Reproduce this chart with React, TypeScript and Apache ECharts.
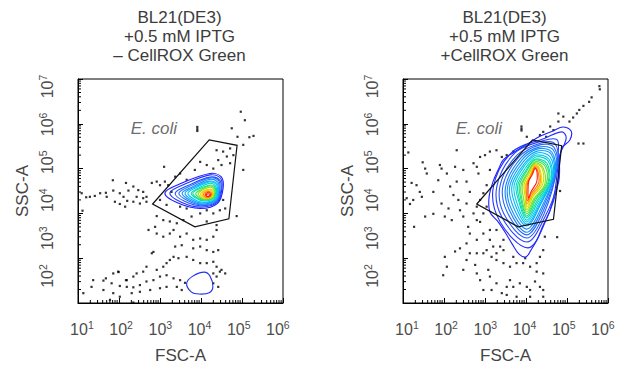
import React, { useEffect, useRef } from 'react';
import * as echarts from 'echarts';

const FONT = '"Liberation Sans", Arial, Helvetica, sans-serif';

// ---- text ----
const panelTitles = [
  'BL21(DE3)\n+0.5 mM IPTG\n– CellROX Green',
  'BL21(DE3)\n+0.5 mM IPTG\n+CellROX Green',
];
const xAxisName = 'FSC-A';
const yAxisName = 'SSC-A';
const gateName = 'E. coli';

// ---- axes (log10 units) ----
const xExponents = [1, 2, 3, 4, 5, 6];
const yExponents = [2, 3, 4, 5, 6, 7];
const minorMultipliers = [2, 3, 4, 5, 6, 7, 8, 9];
// the printed decade labels sit on a slightly compressed scale in the original figure
const xLabelScale = [0.9, 6.13];
const yLabelScale = [1.288, 7.198];

// ---- gate label position (log10 FSC-A, log10 SSC-A) ----
const gateLabelPos = [2.85, 5.9];
const leftGateMark = [[3.91, 5.93], [3.91, 5.88], [3.91, 5.84]];
const rightGateMark = [[3.89, 5.94], [3.89, 5.89], [3.89, 5.85]];

// ---- gates ----
const leftGate = [[2.82, 4.21], [4.20, 5.64], [4.88, 5.52], [4.68, 3.88], [3.85, 3.70]];
const rightGate = [[2.80, 4.21], [4.16, 5.64], [4.87, 5.51], [4.67, 3.87], [3.81, 3.70]];

// ---- left panel contours (outer -> inner) ----
const leftContours = [
  [[3.12, 4.46], [3.54, 4.68], [4.22, 4.89], [4.49, 4.82], [4.54, 4.57], [4.41, 4.23], [3.98, 4.11], [3.44, 4.23]],
  [[3.24, 4.46], [3.62, 4.66], [4.22, 4.86], [4.47, 4.79], [4.51, 4.56], [4.40, 4.25], [3.99, 4.14], [3.52, 4.25]],
  [[3.37, 4.45], [3.70, 4.63], [4.22, 4.81], [4.45, 4.75], [4.49, 4.55], [4.39, 4.27], [4.00, 4.17], [3.60, 4.27]],
  [[3.46, 4.45], [3.76, 4.62], [4.22, 4.79], [4.43, 4.73], [4.46, 4.54], [4.38, 4.28], [4.01, 4.19], [3.68, 4.28]],
  [[3.54, 4.45], [3.81, 4.60], [4.21, 4.76], [4.41, 4.70], [4.44, 4.53], [4.37, 4.29], [4.02, 4.21], [3.74, 4.29]],
  [[3.61, 4.45], [3.85, 4.59], [4.21, 4.72], [4.39, 4.67], [4.42, 4.52], [4.35, 4.30], [4.03, 4.23], [3.79, 4.30]],
  [[3.68, 4.45], [3.89, 4.58], [4.20, 4.70], [4.37, 4.65], [4.40, 4.51], [4.34, 4.31], [4.04, 4.25], [3.84, 4.31]],
  [[3.76, 4.45], [3.93, 4.56], [4.20, 4.67], [4.35, 4.62], [4.38, 4.50], [4.33, 4.33], [4.05, 4.28], [3.89, 4.33]],
  [[3.80, 4.45], [3.96, 4.55], [4.20, 4.63], [4.33, 4.60], [4.36, 4.49], [4.31, 4.34], [4.06, 4.30], [3.92, 4.34]],
  [[3.87, 4.44], [4.00, 4.53], [4.19, 4.61], [4.31, 4.58], [4.34, 4.48], [4.30, 4.35], [4.07, 4.31], [3.96, 4.35]],
  [[3.93, 4.44], [4.03, 4.52], [4.19, 4.58], [4.29, 4.56], [4.32, 4.47], [4.28, 4.36], [4.09, 4.32], [3.99, 4.36]],
  [[3.98, 4.44], [4.06, 4.50], [4.18, 4.54], [4.27, 4.53], [4.30, 4.46], [4.26, 4.37], [4.11, 4.33], [4.03, 4.37]],
  [[4.02, 4.43], [4.08, 4.49], [4.18, 4.52], [4.25, 4.51], [4.28, 4.45], [4.25, 4.38], [4.13, 4.34], [4.06, 4.38]],
  [[4.06, 4.43], [4.11, 4.47], [4.17, 4.49], [4.23, 4.48], [4.26, 4.44], [4.23, 4.38], [4.15, 4.35], [4.09, 4.38]],
  [[4.10, 4.42], [4.13, 4.45], [4.17, 4.47], [4.22, 4.46], [4.24, 4.42], [4.22, 4.39], [4.16, 4.37], [4.12, 4.39]],
  [[4.12, 4.41], [4.15, 4.43], [4.18, 4.44], [4.21, 4.43], [4.22, 4.41], [4.20, 4.39], [4.16, 4.38], [4.13, 4.39]],
  // debris population near the bottom
  [[3.65, 2.44], [3.80, 2.60], [4.08, 2.69], [4.22, 2.60], [4.29, 2.36], [4.20, 2.23], [3.96, 2.20], [3.76, 2.25]],
];
const leftContourColors = [
  '#1a1aff', '#2030ff', '#2050ff', '#1e6fff', '#1a8cff', '#10a8ff', '#00c4f4', '#00d8d0',
  '#10e090', '#40e040', '#90e020', '#d8e000', '#ffc000', '#ff8000', '#ff4000', '#ff1010',
  '#2030ee',
];

// ---- right panel contours (outer -> inner) ----
const rightContours = [
  [[5.10, 5.84], [4.90, 5.93], [4.66, 5.84], [4.34, 5.72], [4.00, 5.53], [3.68, 5.35], [3.44, 5.19], [3.34, 5.01],
   [3.20, 4.72], [3.10, 4.37], [3.12, 4.03], [3.32, 3.81], [3.49, 3.58], [3.66, 3.32], [3.83, 3.09], [4.00, 3.03],
   [4.12, 3.18], [4.27, 3.41], [4.41, 3.72], [4.59, 4.08], [4.71, 4.52], [4.78, 5.04], [4.88, 5.46], [5.07, 5.64]],
  [[4.46, 5.68], [4.88, 5.82], [4.98, 5.68], [4.83, 5.30], [4.80, 4.72], [4.49, 3.85], [4.05, 3.23], [3.37, 3.81], [3.20, 4.57], [3.66, 5.37]],
  [[4.41, 5.62], [4.76, 5.64], [4.78, 5.28], [4.78, 4.70], [4.46, 3.92], [4.02, 3.36], [3.41, 3.92], [3.29, 4.61], [3.73, 5.35]],
  [[4.37, 5.57], [4.71, 5.55], [4.77, 5.08], [4.44, 3.99], [4.02, 3.45], [3.46, 3.99], [3.37, 4.63], [3.78, 5.30]],
  [[4.34, 5.53], [4.68, 5.48], [4.76, 5.01], [4.41, 4.03], [4.02, 3.52], [3.54, 4.03], [3.44, 4.63], [3.83, 5.26]],
  [[4.32, 5.48], [4.66, 5.42], [4.73, 4.97], [4.39, 4.08], [4.02, 3.58], [3.59, 4.08], [3.51, 4.63], [3.88, 5.24]],
  [[4.29, 5.44], [4.63, 5.37], [4.71, 4.92], [4.37, 4.12], [4.02, 3.65], [3.63, 4.12], [3.56, 4.63], [3.90, 5.19]],
  [[4.27, 5.39], [4.61, 5.33], [4.68, 4.88], [4.34, 4.17], [4.02, 3.72], [3.68, 4.17], [3.61, 4.63], [3.93, 5.15]],
  [[4.27, 5.35], [4.59, 5.26], [4.66, 4.83], [4.34, 4.21], [4.02, 3.76], [3.73, 4.21], [3.66, 4.63], [3.95, 5.10]],
  [[4.24, 5.30], [4.56, 5.21], [4.63, 4.79], [4.32, 4.23], [4.02, 3.81], [3.78, 4.23], [3.71, 4.63], [3.98, 5.08]],
  [[4.24, 5.26], [4.54, 5.17], [4.61, 4.75], [4.29, 4.25], [4.02, 3.85], [3.83, 4.25], [3.76, 4.63], [4.00, 5.03]],
  [[4.22, 5.21], [4.51, 5.12], [4.57, 4.72], [4.27, 4.28], [4.02, 3.90], [3.85, 4.28], [3.80, 4.63], [4.02, 4.99]],
  [[4.22, 5.19], [4.49, 5.08], [4.54, 4.70], [4.24, 4.30], [4.02, 3.94], [3.88, 4.30], [3.84, 4.63], [4.02, 4.95]],
  [[4.22, 5.15], [4.46, 5.06], [4.50, 4.68], [4.22, 4.32], [4.02, 3.99], [3.90, 4.32], [3.88, 4.63], [4.05, 4.92]],
  [[4.22, 5.12], [4.41, 5.03], [4.46, 4.66], [4.20, 4.34], [4.02, 4.03], [3.94, 4.34], [3.91, 4.63], [4.05, 4.90]],
  [[4.22, 5.10], [4.39, 5.01], [4.41, 4.66], [4.17, 4.37], [4.02, 4.08], [3.98, 4.37], [3.95, 4.63], [4.07, 4.88]],
  [[4.22, 5.08], [4.34, 4.99], [4.37, 4.66], [4.15, 4.39], [4.02, 4.14], [4.00, 4.39], [3.98, 4.63], [4.10, 4.86]],
  [[4.22, 5.06], [4.32, 4.97], [4.34, 4.66], [4.15, 4.41], [4.02, 4.21], [4.01, 4.41], [4.00, 4.63], [4.10, 4.83]],
  [[4.22, 5.03], [4.29, 4.94], [4.31, 4.68], [4.12, 4.43], [4.04, 4.28], [4.02, 4.47], [4.04, 4.68], [4.12, 4.83]],
  [[4.22, 5.01], [4.27, 4.92], [4.26, 4.70], [4.12, 4.48], [4.06, 4.34], [4.05, 4.52], [4.07, 4.73], [4.15, 4.86]],
];
const rightContourColors = [
  '#1f1fff', '#2430ff', '#2642ff', '#2555ff', '#2268ff', '#1c7cff', '#1490ff', '#0aa4ff', '#00b8fa', '#00c8ec',
  '#00d6d0', '#08dca8', '#20e078', '#48e048', '#80e020', '#c0e000', '#f0d800', '#ffa800', '#ff6a00', '#ff2000',
];

// ---- events outside the outermost contour (log10 FSC-A, log10 SSC-A) ----
const leftDots = [
  [4.97, 6.27], [5.07, 6.08], [4.75, 5.90], [5.28, 5.73], [5.18, 5.70], [4.89, 5.71], [5.03, 5.53], [4.71, 5.45],
  [4.54, 5.38], [4.38, 5.41], [4.63, 5.27], [4.79, 5.30], [4.42, 5.19], [3.98, 5.15], [4.14, 5.08], [4.50, 5.08],
  [4.71, 5.12], [5.03, 4.97], [3.49, 4.89], [3.10, 5.04], [3.37, 4.82], [4.30, 5.00], [3.85, 4.97], [3.65, 4.75],
  [3.20, 4.63], [3.28, 4.48], [3.12, 4.71], [4.54, 4.30], [4.59, 4.11], [4.46, 4.07], [4.30, 4.00], [3.65, 4.11],
  [3.49, 4.15], [3.98, 4.00], [4.14, 4.07], [4.87, 3.94], [3.00, 4.30], [3.16, 4.19],
  [1.09, 4.45], [1.20, 4.36], [1.29, 4.37], [1.41, 4.39], [1.54, 4.45], [1.68, 4.46], [1.86, 4.51], [1.85, 4.74],
  [2.17, 4.68], [2.02, 4.45], [2.11, 4.37], [2.23, 4.51], [2.35, 4.60], [2.47, 4.52], [2.59, 4.48], [2.67, 4.37],
  [2.80, 4.68], [2.92, 4.71], [3.00, 4.63], [2.35, 4.26], [2.51, 4.22], [2.67, 4.26], [2.43, 4.37], [1.90, 4.26],
  [2.02, 4.21], [2.20, 4.28], [1.11, 4.06], [1.70, 4.37], [2.59, 4.34], [2.15, 4.15],
  [2.92, 3.94], [3.08, 3.85], [2.88, 3.70], [2.72, 3.63], [3.24, 3.82], [3.41, 3.78], [3.57, 3.85], [3.77, 3.93],
  [4.14, 3.82], [4.38, 3.74], [2.92, 3.55], [3.08, 3.48], [3.24, 3.55], [3.33, 3.63], [3.49, 3.48], [3.65, 3.55],
  [3.81, 3.41], [3.98, 3.44], [4.14, 3.41], [4.30, 3.48], [4.38, 3.63], [3.37, 3.26], [3.53, 3.29], [3.81, 3.22],
  [3.98, 3.26], [4.14, 3.18], [4.30, 3.14], [4.42, 3.18], [2.84, 3.14], [2.80, 3.11], [3.33, 3.03], [3.24, 2.96],
  [3.45, 3.00], [3.65, 3.03], [3.81, 2.96], [3.98, 2.89], [4.14, 2.89], [4.30, 2.92], [4.38, 2.81], [4.50, 2.74],
  [4.59, 2.66], [3.16, 2.89], [3.08, 2.81], [2.92, 2.74], [2.67, 2.81], [2.59, 2.70], [2.43, 2.66], [2.35, 2.59],
  [2.19, 2.51], [1.98, 2.70], [1.86, 2.66], [1.68, 2.55], [1.62, 2.50], [1.37, 2.51], [1.82, 2.44], [2.02, 2.38],
  [2.19, 2.36], [2.35, 2.35], [2.51, 2.40], [2.67, 2.48], [2.84, 2.51], [3.00, 2.59], [3.16, 2.62], [3.33, 2.55],
  [3.49, 2.51], [3.61, 2.45], [3.16, 2.36], [3.00, 2.33], [2.76, 2.29], [2.51, 2.25], [2.31, 2.22], [1.13, 2.22],
  [1.33, 2.36], [1.62, 2.29], [1.86, 2.22], [2.02, 2.14], [1.78, 2.07], [3.41, 2.36], [3.53, 2.29], [4.30, 2.44],
  [4.42, 2.36], [4.38, 2.59], [4.30, 2.66], [4.46, 2.70], [2.35, 2.01], [1.99, 2.69], [2.17, 2.51],
];

const rightDots = [
  [5.79, 6.84], [5.80, 6.77], [5.60, 6.59], [5.54, 6.49], [5.40, 6.40], [5.30, 6.31], [5.24, 6.23], [5.15, 6.14],
  [5.06, 6.05], [4.79, 6.23], [4.91, 6.16], [4.79, 6.05], [4.59, 5.94], [4.67, 5.86], [4.42, 5.82], [4.34, 5.75],
  [4.49, 5.71], [5.28, 5.56], [4.02, 5.71], [4.83, 4.50], [5.40, 5.56],
  [1.13, 5.36], [1.48, 5.14], [1.54, 5.00], [1.58, 4.89], [1.21, 4.68], [1.33, 4.63], [1.41, 4.48], [1.46, 4.37],
  [1.25, 4.30], [1.17, 4.21], [1.09, 4.34], [1.27, 3.70], [1.54, 3.93], [1.74, 4.48], [1.90, 5.08], [1.94, 5.00],
  [2.07, 4.89], [2.15, 4.60], [1.86, 4.74], [1.94, 4.22], [2.02, 3.93], [2.11, 4.11], [2.31, 5.41], [2.27, 5.04],
  [2.31, 4.71], [2.23, 4.41], [2.35, 4.30], [2.39, 4.07], [2.19, 3.85], [2.47, 4.97], [2.55, 4.71], [2.63, 4.48],
  [2.55, 4.22], [2.47, 3.93], [2.59, 3.70], [2.72, 5.12], [2.80, 5.04], [2.84, 4.89], [2.88, 5.26], [3.00, 5.30],
  [3.12, 5.38], [3.28, 5.41], [3.41, 5.26], [3.53, 5.30], [3.69, 5.38], [3.12, 4.97], [3.04, 4.63], [2.96, 4.45],
  [2.88, 4.30], [2.80, 4.15], [2.72, 4.00], [2.96, 4.00], [3.04, 4.15], [2.88, 3.81], [2.96, 3.55], [3.12, 3.63],
  [2.80, 3.41], [2.63, 3.55], [2.55, 3.33], [2.39, 3.22], [2.27, 3.15], [2.02, 3.03], [2.07, 2.81], [1.98, 2.62],
  [2.47, 2.74], [2.76, 2.85], [2.80, 2.66], [2.88, 2.51], [2.96, 2.29], [3.08, 2.74], [3.12, 2.59], [3.16, 2.29],
  [3.28, 2.44], [3.41, 2.22], [3.53, 2.36], [3.61, 2.51], [3.69, 2.36], [3.77, 2.14], [3.85, 2.44], [4.02, 2.36],
  [4.10, 2.29], [4.22, 2.48], [4.34, 2.36], [4.42, 2.29], [4.42, 2.66], [4.26, 2.70], [4.10, 2.81], [3.93, 2.89],
  [3.77, 2.89], [3.61, 2.81], [3.45, 2.89], [3.28, 2.96], [3.16, 3.03], [3.28, 3.11], [3.45, 3.18], [3.69, 3.03],
  [3.98, 3.00], [4.26, 2.89], [4.34, 3.03], [4.42, 3.18], [4.46, 3.48], [4.76, 3.47], [3.45, 3.41], [3.37, 3.26],
  [3.20, 3.26], [3.12, 3.41], [3.04, 3.18], [2.96, 3.11], [2.80, 3.11], [2.63, 3.11], [2.55, 2.96], [3.28, 3.63],
  [2.80, 3.85], [3.53, 2.18], [4.10, 2.14], [4.42, 2.14], [1.74, 3.99],
];

const TICK_COLOR = '#4d4d4d';
const tickLabel = (v: number) => `{base|10}{sup|${Math.round(v)}}`;
const labelRich = {
  base: { fontSize: 16, lineHeight: 20, color: TICK_COLOR, fontFamily: FONT },
  sup: { fontSize: 10.5, lineHeight: 16, verticalAlign: 'top', color: TICK_COLOR, fontFamily: FONT },
};

function buildOption() {
  const grids = [
    { left: 78, top: 79, width: 205, height: 224 },
    { left: 403, top: 79, width: 205, height: 224 },
  ];
  const panels = [
    { contours: leftContours, colors: leftContourColors, gate: leftGate, dots: leftDots.concat(leftGateMark) },
    { contours: rightContours, colors: rightContourColors, gate: rightGate, dots: rightDots.concat(rightGateMark) },
  ];

  const xMin = xExponents[0];
  const yMin = yExponents[0];
  const minorData: number[][] = [];
  xExponents.slice(0, -1).forEach((d) => minorMultipliers.forEach((m) => minorData.push([d + Math.log10(m), yMin, 0])));
  yExponents.slice(0, -1).forEach((d) => minorMultipliers.forEach((m) => minorData.push([xMin, d + Math.log10(m), 1])));

  const series: any[] = [];
  panels.forEach((p, i) => {
    series.push({
      type: 'scatter',
      xAxisIndex: i,
      yAxisIndex: i,
      symbol: 'rect',
      symbolSize: 2.2,
      itemStyle: { color: '#000' },
      data: p.dots,
      silent: true,
      z: 2,
    });
    series.push({
      type: 'custom',
      xAxisIndex: i,
      yAxisIndex: i,
      silent: true,
      z: 3,
      data: p.contours.map((r, k) => [r[0][0], r[0][1], k]),
      renderItem: (params: any, api: any) => {
        const k = api.value(2);
        const ring = p.contours[k];
        const pts = ring.map((pt) => api.coord(pt));
        return {
          type: 'polygon',
          shape: { points: pts, smooth: 0.35 },
          style: { fill: 'none', stroke: p.colors[k], lineWidth: 1.1 },
        };
      },
    });
    series.push({
      type: 'custom',
      xAxisIndex: i,
      yAxisIndex: i,
      silent: true,
      z: 4,
      data: [[p.gate[0][0], p.gate[0][1]]],
      renderItem: (params: any, api: any) => ({
        type: 'polygon',
        shape: { points: p.gate.map((pt) => api.coord(pt)) },
        style: { fill: 'none', stroke: '#111', lineWidth: 1.2 },
      }),
    });
    series.push({
      type: 'custom',
      xAxisIndex: i,
      yAxisIndex: i,
      silent: true,
      z: 5,
      clip: false,
      data: minorData,
      renderItem: (params: any, api: any) => {
        const c = api.coord([api.value(0), api.value(1)]);
        const vertical = api.value(2) === 0;
        return {
          type: 'line',
          shape: vertical
            ? { x1: c[0], y1: c[1], x2: c[0], y2: c[1] - 3 }
            : { x1: c[0], y1: c[1], x2: c[0] + 3, y2: c[1] },
          style: { stroke: '#000', lineWidth: 1 },
        };
      },
    });
    series.push({
      type: 'scatter',
      xAxisIndex: i,
      yAxisIndex: i,
      symbolSize: 0,
      silent: true,
      data: [gateLabelPos],
      label: {
        show: true,
        position: 'inside',
        formatter: gateName,
        fontStyle: 'italic',
        fontSize: 17,
        color: '#444',
        fontFamily: FONT,
      },
      z: 6,
    });
  });

  const plainAxis = {
    type: 'value',
    axisLine: { show: true, lineStyle: { color: '#000', width: 1 } },
    axisTick: { show: true, inside: true, length: 5, lineStyle: { color: '#000' } },
    splitLine: { show: false },
    axisLabel: { show: false },
    interval: 1,
  };
  const labelAxis = {
    type: 'value',
    axisLine: { show: false },
    axisTick: { show: false },
    splitLine: { show: false },
  };

  const xAxis: any[] = grids.map((g, i) => ({
    ...plainAxis,
    gridIndex: i,
    position: 'bottom',
    min: xExponents[0],
    max: xExponents[xExponents.length - 1],
    name: xAxisName,
    nameLocation: 'middle',
    nameGap: 44,
    nameTextStyle: { fontSize: 17, color: '#444', fontFamily: FONT },
  }));
  grids.forEach((g, i) =>
    xAxis.push({
      ...labelAxis,
      gridIndex: i,
      position: 'bottom',
      min: xLabelScale[0],
      max: xLabelScale[1],
      axisLabel: {
        customValues: xExponents,
        formatter: tickLabel,
        fontSize: 16,
        margin: 16,
        rich: labelRich,
      },
    })
  );

  const yAxis: any[] = grids.map((g, i) => ({
    ...plainAxis,
    gridIndex: i,
    position: 'left',
    min: yExponents[0],
    max: yExponents[yExponents.length - 1],
    name: yAxisName,
    nameLocation: 'middle',
    nameGap: 47,
    nameTextStyle: { fontSize: 17, color: '#444', fontFamily: FONT },
  }));
  grids.forEach((g, i) =>
    yAxis.push({
      ...labelAxis,
      gridIndex: i,
      position: 'left',
      min: yLabelScale[0],
      max: yLabelScale[1],
      axisLabel: {
        customValues: yExponents,
        formatter: tickLabel,
        fontSize: 16,
        rotate: 90,
        margin: 21,
        rich: labelRich,
      },
    })
  );

  return {
    animation: false,
    backgroundColor: '#fff',
    textStyle: { fontFamily: FONT },
    title: panelTitles.map((t, i) => ({
      text: t,
      left: grids[i].left + grids[i].width / 2 - 1,
      top: 8,
      textAlign: 'center',
      padding: 0,
      textStyle: { fontSize: 17, lineHeight: 19, fontWeight: 'normal', color: '#3c3c3c', fontFamily: FONT },
    })),
    grid: grids.map((g) => ({ ...g, show: true, borderColor: '#000', borderWidth: 1, containLabel: false })),
    xAxis,
    yAxis,
    series,
  };
}

export default function App() {
  const ref = useRef<HTMLDivElement>(null);
  useEffect(() => {
    if (!ref.current) return;
    const chart = echarts.init(ref.current, undefined, { renderer: 'svg' });
    chart.setOption(buildOption() as any);
    return () => chart.dispose();
  }, []);
  return (
    <div
      ref={ref}
      style={{ position: 'fixed', left: 0, top: 0, width: 619, height: 372, background: '#fff' }}
    />
  );
}
